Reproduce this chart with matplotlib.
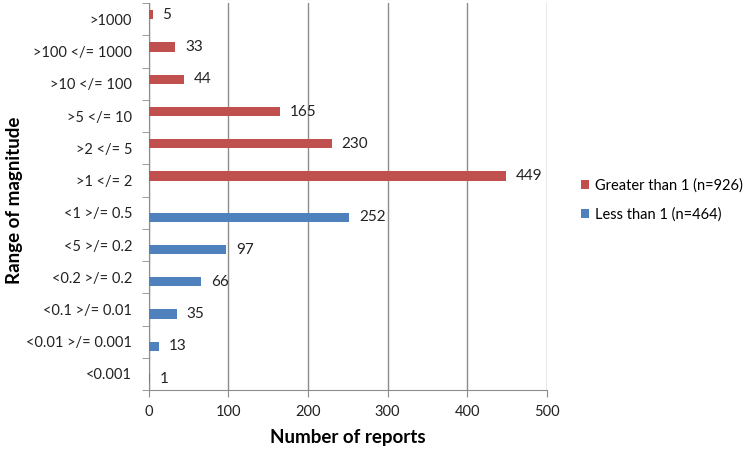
import numpy as np
import matplotlib.pyplot as plt

# --- données ---
categories = [">1000", ">100 </= 1000", ">10 </= 100", ">5 </= 10", ">2 </= 5",
              ">1 </= 2", "<1 >/= 0.5", "<5 >/= 0.2", "<0.2 >/= 0.2",
              "<0.1 >/= 0.01", "<0.01 >/= 0.001", "<0.001"]
greater = [5, 33, 44, 165, 230, 449, None, None, None, None, None, None]
less = [None, None, None, None, None, None, 252, 97, 66, 35, 13, 1]
greater_label = "Greater than 1 (n=926)"
less_label = "Less than 1 (n=464)"
x_ticks = [0, 100, 200, 300, 400, 500]

RED = "#C0504D"
BLUE = "#4F81BD"
GRID = "#8C8C8C"

plt.rcParams['font.family'] = ['Lato', 'DejaVu Sans']

fig = plt.figure(figsize=(7.52, 4.51), dpi=100)
ax = fig.add_axes([0.198, 0.135, 0.529, 0.858])

n = len(categories)
pos = np.arange(n)
h = 0.28

g_vals = np.array([v if v is not None else 0 for v in greater], dtype=float)
l_vals = np.array([v if v is not None else 0 for v in less], dtype=float)

ax.barh(pos - h / 2, g_vals, height=h, color=RED, label=greater_label, zorder=3)
ax.barh(pos + h / 2, l_vals, height=h, color=BLUE, label=less_label, zorder=3)

for i, v in enumerate(greater):
    if v is not None:
        ax.annotate(str(v), (v, pos[i] - h / 2), xytext=(7, 0), textcoords='offset points',
                    va='center', ha='left', fontsize=11, color='#222222')
for i, v in enumerate(less):
    if v is not None:
        ax.annotate(str(v), (v, pos[i] + h / 2), xytext=(7, 0), textcoords='offset points',
                    va='center', ha='left', fontsize=11, color='#222222')

ax.set_ylim(n - 0.5, -0.5)
ax.set_xlim(0, 500)

ax.set_yticks(pos)
ax.set_yticklabels(categories, fontsize=10.5, color='#222222')
ax.set_yticks(np.arange(-0.5, n, 1.0), minor=True)
ax.tick_params(axis='y', which='major', length=0, pad=12)
ax.tick_params(axis='y', which='minor', length=5, color=GRID)

ax.set_xticks(x_ticks)
ax.tick_params(axis='x', length=5, color=GRID, labelsize=10.5, labelcolor='#222222', pad=6)
ax.xaxis.grid(True, color=GRID, linewidth=1, zorder=0)

for s in ['top', 'right']:
    ax.spines[s].set_visible(False)
for s in ['left', 'bottom']:
    ax.spines[s].set_color(GRID)

ax.set_xlabel("Number of reports", fontsize=13.5, fontweight='bold', labelpad=7)
fig.text(0.019, 0.556, "Range of magnitude", rotation=90, ha='center', va='center',
         fontsize=13.5, fontweight='bold')

handles, labels = ax.get_legend_handles_labels()
fig.legend(handles, labels, loc='center left', bbox_to_anchor=(0.772, 0.556),
           frameon=False, fontsize=10.5, borderpad=0, borderaxespad=0,
           handlelength=0.6, handleheight=0.6, handletextpad=0.4, labelspacing=1.0)

fig.savefig("out.png", dpi=100)
